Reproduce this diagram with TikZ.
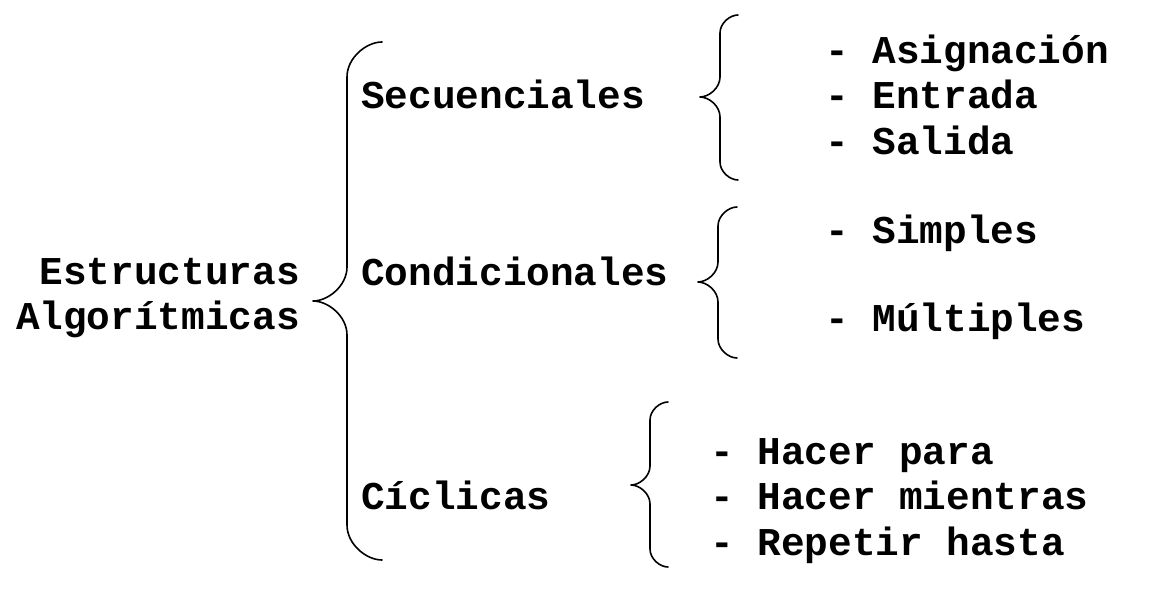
\documentclass[tikz,border=0pt]{standalone}
\usepackage{fontspec}
\setmonofont{Liberation Mono}
\usetikzlibrary{positioning}

% llave: x extremo, x lomo, x punta, y arriba, y punta, y abajo
\newcommand\llave[6]{%
  \draw[trazo] (#1,#4) .. controls ({#2+0.55*(#1-#2)},#4) and (#2,{#4+0.45*(#1-#2)}) .. (#2,{#4+(#1-#2)})
    -- (#2,{#5-(#2-#3)}) .. controls (#2,{#5-0.45*(#2-#3)}) and ({#3+0.45*(#2-#3)},#5) .. (#3,#5)
    .. controls ({#3+0.45*(#2-#3)},#5) and (#2,{#5+0.45*(#2-#3)}) .. (#2,{#5+(#2-#3)})
    -- (#2,{#6-(#1-#2)}) .. controls (#2,{#6-0.45*(#1-#2)}) and ({#2+0.55*(#1-#2)},#6) .. (#1,#6);}

\begin{document}
\begin{tikzpicture}[x=1pt,y=-1pt]
\tikzset{texto/.style={font=\ttfamily\bfseries\fontsize{39.4}{45.5}\selectfont, inner sep=0pt, anchor=base west},
         trazo/.style={line width=1.6pt, line cap=round, line join=round}}
\useasboundingbox (0,0) rectangle (1150,601);

\node[texto, anchor=base east, align=right] (raiz) at (300,330) {Estructuras\\Algorítmicas};

\node[texto] (sec) at (361,108.5) {Secuenciales};
\node[texto] (con) at (361,285.5) {Condicionales};
\node[texto] (cic) at (361,509) {Cíclicas};

\node[texto] (asi) at (825,63.5) {- Asignación};
\node[texto] (ent) at (825,109) {- Entrada};
\node[texto] (sal) at (825,155) {- Salida};

\node[texto] (sim) at (825,243.5) {- Simples};
\node[texto] (mul) at (825,331.5) {- Múltiples};

\node[texto] (hpa) at (710,464) {- Hacer para};
\node[texto] (hmi) at (710,509.5) {- Hacer mientras};
\node[texto] (rep) at (710,555) {- Repetir hasta};

\llave{382}{347}{313}{42}{301}{560}
\llave{738}{720}{700}{15}{97}{180}
\llave{737}{718}{698}{207}{282}{358}
\llave{668}{650}{631}{402}{485}{567}
\end{tikzpicture}
\end{document}
